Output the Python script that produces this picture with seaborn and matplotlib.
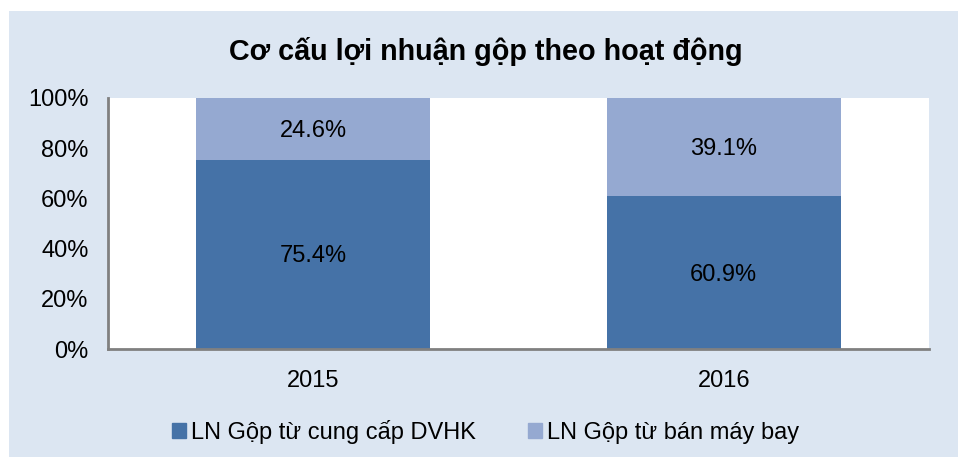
import matplotlib
matplotlib.use("Agg")
import matplotlib.pyplot as plt
import matplotlib.patches as mpatches
import pandas as pd
import seaborn as sns

# data
years = ["2015", "2016"]
dvhk = [75.4, 60.9]        # LN Gộp từ cung cấp DVHK
may_bay = [24.6, 39.1]     # LN Gộp từ bán máy bay
series_names = ["LN Gộp từ cung cấp DVHK", "LN Gộp từ bán máy bay"]
y_ticks = [0, 20, 40, 60, 80, 100]

dark = "#4572A7"
light = "#95A9D1"
bg = "#DCE6F2"
fs = 17

sns.set_style("white")
plt.rcParams["font.family"] = ["Liberation Sans", "DejaVu Sans"]
plt.rcParams["text.color"] = "black"

df = pd.DataFrame({"year": years, "dvhk": dvhk, "may_bay": may_bay})
df["total"] = df["dvhk"] + df["may_bay"]

fig = plt.figure(figsize=(9.71, 4.57), dpi=100, facecolor="white")
fig.patches.append(mpatches.Rectangle((9 / 971, 0), 949 / 971, 1 - 11 / 457,
                                      transform=fig.transFigure,
                                      facecolor=bg, edgecolor="none", zorder=-1))
ax = fig.add_axes([108 / 971, 1 - 349 / 457, 821 / 971, 251 / 457])
ax.set_facecolor("white")

# stacked: full bar in light colour, bottom segment in dark on top
sns.barplot(data=df, x="year", y="total", color=light, saturation=1,
            width=0.57, ax=ax)
sns.barplot(data=df, x="year", y="dvhk", color=dark, saturation=1,
            width=0.57, ax=ax)

for p in ax.patches:
    p.set_edgecolor("none")

for i, row in df.iterrows():
    ax.text(i, row["dvhk"] / 2 - 0.8, f"{row['dvhk']:.1f}%", ha="center",
            va="center", fontsize=fs, color="black")
    ax.text(i, row["dvhk"] + row["may_bay"] / 2 - 0.8, f"{row['may_bay']:.1f}%",
            ha="center", va="center", fontsize=fs, color="black")

ax.set_ylim(0, 100)
ax.set_yticks(y_ticks)
ax.set_yticklabels([f"{t}%" for t in y_ticks])
ax.set_xlabel("")
ax.set_ylabel("")
ax.tick_params(axis="both", length=0, labelsize=fs, colors="black")
ax.tick_params(axis="y", pad=14)
ax.tick_params(axis="x", pad=15)

for s in ["top", "right"]:
    ax.spines[s].set_visible(False)
for s in ["left", "bottom"]:
    ax.spines[s].set_color("#808080")
    ax.spines[s].set_linewidth(2)

fig.text(0.5, 1 - 51 / 457, "Cơ cấu lợi nhuận gộp theo hoạt động",
         ha="center", va="center", fontsize=20.7, fontweight="bold",
         color="black")

handles = [mpatches.Patch(color=dark, label=series_names[0]),
           mpatches.Patch(color=light, label=series_names[1])]
fig.legend(handles=handles, loc="center", bbox_to_anchor=(0.5, 1 - 432 / 457),
           ncol=2, frameon=False, fontsize=fs, handlelength=0.6,
           handleheight=0.6, handletextpad=0.2, columnspacing=2.2,
           labelcolor="black")

fig.savefig("out.png", dpi=100, facecolor="white")
